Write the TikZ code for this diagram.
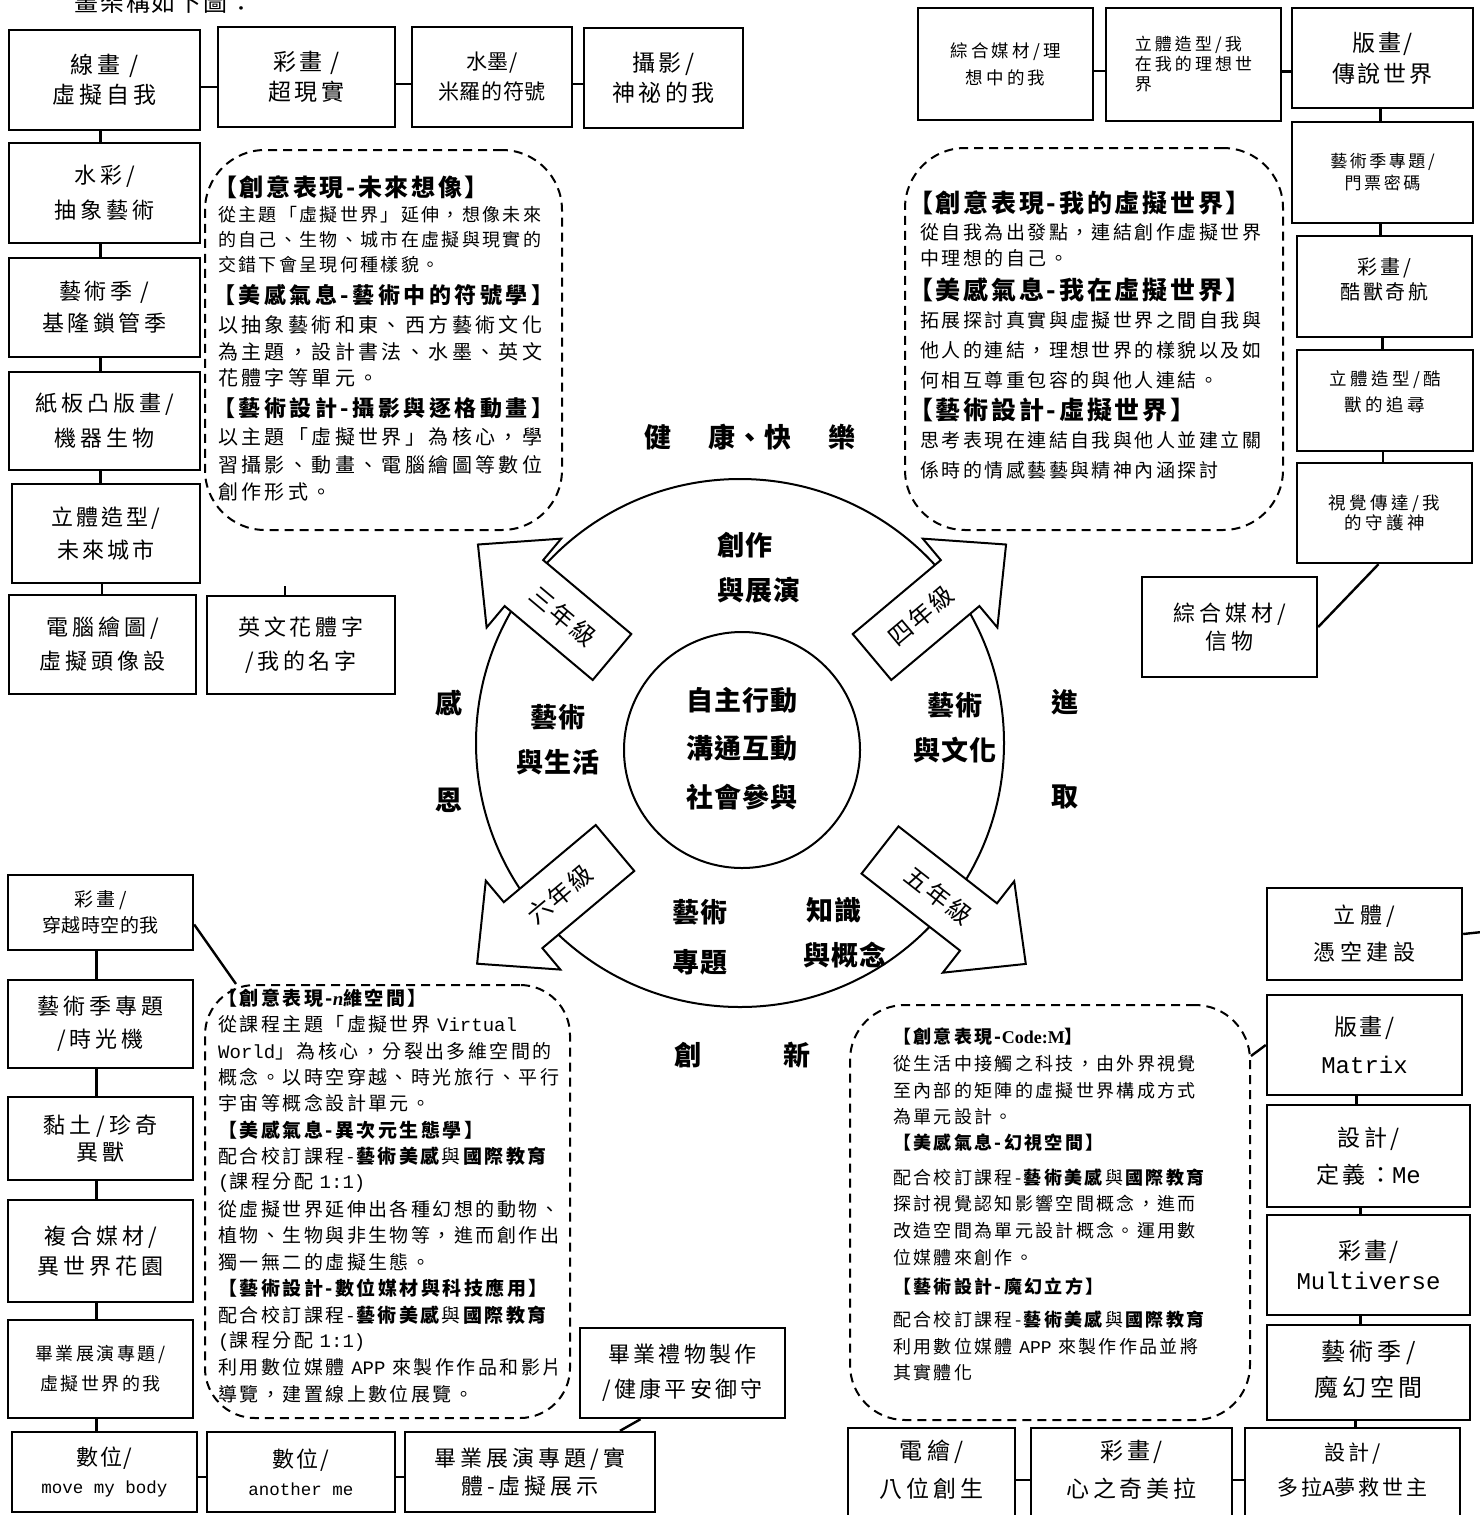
\documentclass[tikz,border=0pt]{standalone}
\usepackage{fontspec}
\setmainfont{Noto Sans CJK TC}
\newfontfamily\lat{Liberation Mono}
\newfontfamily\lser{Liberation Serif}
\usetikzlibrary{calc}
\newcommand\lb[3]{\fontsize{#1}{#3}\selectfont\addfontfeature{LetterSpace=#2}}
\newcommand\dn[1]{\rule[-#1]{0pt}{#1}}
\newcommand\bx[7][]{%
  \pgfmathsetmacro\bxcx{(#3+#5)/2}%
  \pgfmathsetmacro\bxcy{(#4+#6)/2}%
  \pgfmathsetmacro\bxw{#5-#3}%
  \pgfmathsetmacro\bxh{#6-#4}%
  \node[box,minimum width=\bxw pt,minimum height=\bxh pt,#1] (#2) at (\bxcx,\bxcy) {#7};}
\newcommand\tl[5]{\node[tline,font=#4] (#1) at (#2,#3) {#5};}
\newcommand\vc[3]{\path ([xshift=#3]#1.south) coordinate (#1v); \draw[conn] (#1v) -- (#1v |- #2.north);}
\newcommand\hc[3]{\path ([yshift=#3]#1.east) coordinate (#1h); \draw[conn] (#1h) -- (#1h -| #2.west);}
% name, Sx, Sy, angle, text, text rotation, shaft length, text position
\newcommand\barrow[8]{%
  \begin{scope}[shift={(#2,#3)},rotate=#4]
    \draw[arrowshape] (0,-30) -- (#7,-30) -- (#7,-58) -- ($(#7,0)+(60,0)$) -- (#7,58) -- (#7,30) -- (0,30) -- cycle;
    \node[font=\lb{24}{10}{24},rotate=#6,inner sep=0pt] (#1) at (#8,0) {#5};
  \end{scope}}
\begin{document}
\begin{tikzpicture}[x=1pt,y=-1pt,
  box/.style={draw,line width=2.4pt,align=center,inner sep=0pt},
  dbox/.style={draw,line width=2pt,dash pattern=on 9pt off 6pt,inner sep=0pt},
  tline/.style={anchor=west,inner sep=0pt},
  ctext/.style={font=\bfseries\lb{27}{4}{27},inner sep=0pt},
  conn/.style={line width=2.4pt},
  arrowshape/.style={draw,fill=white,line width=2pt,line join=miter}]
\useasboundingbox (0,0) rectangle (1480,1515);

% partial caption at the top
\node[anchor=base west,font=\lb{24}{8}{24},inner sep=0pt] (cap) at (74,12) {畫架構如下圖：};

% ---------- top-left group ----------
\bx[font=\lb{23}{18}{30}]{L1}{9}{30}{200}{130}{線畫 /\\虛擬自我}
\bx[font=\lb{23}{14}{30}]{T2}{218}{27}{395}{127}{彩畫 /\\超現實}
\bx[font=\lb{21}{3}{30}]{T3}{412}{27}{572}{127}{水墨/\\米羅的符號}
\bx[font=\lb{23}{15}{30}]{T4}{584}{28}{743}{128}{攝影/\\神祕的我}
\bx[font=\lb{22}{18}{35}]{L2}{9}{143}{200}{243}{水彩/\\抽象藝術}
\bx[font=\lb{22}{16}{32}]{L3}{9}{258}{200}{357}{藝術季 /\\基隆鎖管季}
\bx[font=\lb{22}{18}{35}]{L4}{9}{372}{200}{470}{紙板凸版畫/\\機器生物}
\bx[font=\lb{22}{14}{33}]{L5}{12}{484}{200}{583}{立體造型/\\未來城市}
\bx[font=\lb{22}{18}{34}]{L6}{9}{595}{196}{694}{電腦繪圖/\\虛擬頭像設}
\bx[font=\lb{22}{16}{34}]{L7}{207}{596}{395}{694}{英文花體字\\/我的名字}

\hc{L1}{T2}{-7pt}
\hc{T2}{T3}{-7pt}
\hc{T3}{T4}{-7pt}
\vc{L1}{L2}{-4pt}
\vc{L2}{L3}{-4pt}
\vc{L3}{L4}{-4pt}
\vc{L4}{L5}{-4pt}
\vc{L5}{L6}{-4pt}
\coordinate (L7s) at (285,586);
\draw[conn] (L7s) -- (L7s |- L7.north);

% ---------- top-right group ----------
\bx[font=\lb{17.5}{18}{27}]{R1}{918}{8}{1093}{120}{綜合媒材/理\\想中的我}
\bx[font=\lb{17}{18}{20},align=left]{R2}{1106}{8}{1281}{121}{立體造型/我\\在我的理想世\\界}
\bx[font=\lb{23}{13}{31}]{R3}{1292}{8}{1473}{108}{版畫/\\傳說世界}
\bx[font=\lb{17}{15}{22}]{R4}{1292}{122}{1473}{223}{藝術季專題/\\門票密碼}
\bx[font=\lb{20}{14}{25}]{R5}{1297}{236}{1472}{337}{彩畫/\\酷獸奇航\dn{16pt}}
\bx[font=\lb{17.5}{20}{26}]{R6}{1297}{350}{1473}{451}{立體造型/酷\\獸的追尋\dn{18pt}}
\bx[font=\lb{17.5}{20}{20}]{R7}{1297}{463}{1472}{563}{視覺傳達/我\\的守護神}
\bx[font=\lb{22}{18}{28}]{R8}{1142}{577}{1317}{677}{綜合媒材/\\信物}

\hc{R1}{R2}{-7pt}
\hc{R2}{R3}{-7pt}
\vc{R3}{R4}{-2pt}
\vc{R4}{R5}{-2pt}
\vc{R5}{R6}{-2pt}
\vc{R6}{R7}{-2pt}
\draw[conn] ([xshift=-6pt]R7.south) -- (R8.east);

% ---------- bottom-left group ----------
\bx[font=\lb{19}{3}{26}]{B1}{8}{875}{193}{950}{{\addfontfeature{LetterSpace=18}彩畫/}\\穿越時空的我}
\bx[font=\lb{22}{18}{33}]{B2}{8}{980}{193}{1068}{藝術季專題\\/時光機}
\bx[font=\lb{22}{20}{27}]{B3}{8}{1097}{193}{1180}{黏土/珍奇\\異獸}
\bx[font=\lb{22}{18}{30}]{B4}{8}{1200}{193}{1302}{複合媒材/\\異世界花園}
\bx[font=\lb{18}{14}{30}]{B5}{8}{1320}{193}{1418}{畢業展演專題/\\虛擬世界的我}
\bx[font=\lb{22}{8}{28}]{B6}{12}{1432}{197}{1512}{數位/\\{\lat\fontsize{17.5}{28}\selectfont move my body}}
\bx[font=\lb{22}{8}{28}]{B7}{207}{1432}{395}{1512}{數位/\\{\lat\fontsize{17.5}{28}\selectfont another me}}
\bx[font=\lb{22}{18}{28}]{B8}{405}{1432}{655}{1512}{畢業展演專題/實\\體-虛擬展示}
\bx[font=\lb{22}{15}{35}]{B9}{580}{1328}{785}{1418}{畢業禮物製作\\/健康平安御守}

\vc{B1}{B2}{-4pt}
\vc{B2}{B3}{-4pt}
\vc{B3}{B4}{-4pt}
\vc{B4}{B5}{-4pt}
\vc{B5}{B6}{-4pt}
\hc{B6}{B7}{-5pt}
\hc{B7}{B8}{-5pt}
\draw[conn] ([xshift=-42pt]B9.south) -- ([xshift=90pt]B8.north);

% ---------- bottom-right group ----------
\bx[font=\lb{22}{20}{37}]{C1}{1267}{888}{1462}{980}{立體/\\憑空建設}
\bx[font=\lb{23}{10}{38}]{C2}{1267}{995}{1462}{1095}{版畫/\\{\lat\fontsize{24}{38}\selectfont Matrix}}
\bx[font=\lb{23}{15}{37}]{C3}{1267}{1105}{1470}{1207}{設計/\\定義：{\lat\fontsize{24}{37}\selectfont Me}}
\bx[font=\lb{23}{10}{30}]{C4}{1267}{1215}{1470}{1315}{彩畫/\\{\lat\fontsize{24}{30}\selectfont Multiverse}}
\bx[font=\lb{24}{18}{36}]{C5}{1267}{1325}{1470}{1420}{藝術季/\\魔幻空間\dn{8pt}}
\bx[font=\lb{23}{18}{38}]{C6}{848}{1428}{1015}{1522}{電繪/\\八位創生\dn{12pt}}
\bx[font=\lb{23}{16}{38}]{C7}{1031}{1428}{1232}{1522}{彩畫/\\心之奇美拉\dn{12pt}}
\bx[font=\lb{21}{14}{35}]{C8}{1245}{1428}{1460}{1522}{設計/\\多拉{\lat A}夢救世主\dn{12pt}}

\coordinate (C1s) at (1482,932);
\draw[conn] (C1.east) -- (C1s);
\vc{C2}{C3}{-8pt}
\vc{C3}{C4}{-8pt}
\vc{C4}{C5}{-8pt}
\vc{C5}{C8}{-13pt}
\hc{C6}{C7}{-5pt}
\hc{C7}{C8}{-5pt}

% ---------- dashed boxes ----------
\node[dbox,rounded corners=60pt,minimum width=357pt,minimum height=380pt] (D1) at (383.5,340) {};
\node[dbox,rounded corners=60pt,minimum width=378pt,minimum height=382pt] (D2) at (1094,339) {};
\node[dbox,rounded corners=50pt,minimum width=365pt,minimum height=433pt] (D3) at (387.5,1201.5) {};
\node[dbox,rounded corners=55pt,minimum width=400pt,minimum height=415pt] (D4) at (1050,1212.5) {};

\draw[conn] ([yshift=-12pt]B1.east) -- ($(D3.north west)+(32,0)$);
\draw[conn] ($(D4.north east)+(0,52)$) -- (C2.west);

% D1 text
\tl{a1}{213}{187}{\bfseries\lb{24}{11}{24}}{【創意表現-未來想像】}
\tl{a2}{218}{215}{\lb{18}{13}{18}}{從主題「虛擬世界」延伸，想像未來}
\tl{a3}{218}{240}{\lb{18}{13}{18}}{的自己、生物、城市在虛擬與現實的}
\tl{a4}{218}{265}{\lb{18}{13}{18}}{交錯下會呈現何種樣貌。}
\tl{a5}{213}{295}{\bfseries\lb{22}{16}{22}}{【美感氣息-藝術中的符號學】}
\tl{a6}{218}{325}{\lb{20}{17}{20}}{以抽象藝術和東、西方藝術文化}
\tl{a7}{218}{352}{\lb{20}{17}{20}}{為主題，設計書法、水墨、英文}
\tl{a8}{218}{378}{\lb{20}{17}{20}}{花體字等單元。}
\tl{a9}{213}{408}{\bfseries\lb{22}{16}{22}}{【藝術設計-攝影與逐格動畫】}
\tl{a10}{218}{437}{\lb{20}{17}{20}}{以主題「虛擬世界」為核心，學}
\tl{a11}{218}{465}{\lb{20}{17}{20}}{習攝影、動畫、電腦繪圖等數位}
\tl{a12}{218}{492}{\lb{20}{17}{20}}{創作形式。}

% D2 text
\tl{b1}{908}{203}{\bfseries\lb{25}{11}{25}}{【創意表現-我的虛擬世界】}
\tl{b2}{920}{232}{\lb{19}{13}{19}}{從自我為出發點，連結創作虛擬世界}
\tl{b3}{920}{258}{\lb{19}{13}{19}}{中理想的自己。}
\tl{b4}{908}{290}{\bfseries\lb{25}{11}{25}}{【美感氣息-我在虛擬世界】}
\tl{b5}{920}{320}{\lb{19}{13}{19}}{拓展探討真實與虛擬世界之間自我與}
\tl{b6}{920}{350}{\lb{19}{13}{19}}{他人的連結，理想世界的樣貌以及如}
\tl{b7}{920}{380}{\lb{19}{13}{19}}{何相互尊重包容的與他人連結。}
\tl{b8}{908}{410}{\bfseries\lb{25}{11}{25}}{【藝術設計-虛擬世界】}
\tl{b9}{920}{440}{\lb{19}{13}{19}}{思考表現在連結自我與他人並建立關}
\tl{b10}{920}{470}{\lb{19}{13}{19}}{係時的情感藝藝與精神內涵探討}

% D3 text
\tl{c1}{218}{998}{\bfseries\lb{19}{13}{19}}{【創意表現-{\lser\bfseries\itshape n}維空間】}
\tl{c2}{218}{1024.4}{\lb{19}{13}{19}}{從課程主題「虛擬世界 {\lat Virtual}}
\tl{c3}{218}{1050.8}{\lb{19}{13}{19}}{{\lat World}」為核心，分裂出多維空間的}
\tl{c4}{218}{1077.2}{\lb{19}{13}{19}}{概念。以時空穿越、時光旅行、平行}
\tl{c5}{218}{1103.6}{\lb{19}{13}{19}}{宇宙等概念設計單元。}
\tl{c6}{218}{1130}{\bfseries\lb{19}{13}{19}}{【美感氣息-異次元生態學】}
\tl{c7}{218}{1156.4}{\lb{19}{13}{19}}{配合校訂課程-\textbf{藝術美感}與\textbf{國際教育}}
\tl{c8}{218}{1182.8}{\lb{19}{13}{19}}{{\lat(}課程分配 {\lat 1:1)}}
\tl{c9}{218}{1209.2}{\lb{19}{13}{19}}{從虛擬世界延伸出各種幻想的動物、}
\tl{c10}{218}{1235.6}{\lb{19}{13}{19}}{植物、生物與非生物等，進而創作出}
\tl{c11}{218}{1262}{\lb{19}{13}{19}}{獨一無二的虛擬生態。}
\tl{c12}{218}{1288.4}{\bfseries\lb{19}{13}{19}}{【藝術設計-數位媒材與科技應用】}
\tl{c13}{218}{1314.8}{\lb{19}{13}{19}}{配合校訂課程-\textbf{藝術美感}與\textbf{國際教育}}
\tl{c14}{218}{1341.2}{\lb{19}{13}{19}}{{\lat(}課程分配 {\lat 1:1)}}
\tl{c15}{218}{1367.6}{\lb{19}{13}{19}}{利用數位媒體 {\lat APP} 來製作作品和影片}
\tl{c16}{218}{1394}{\lb{19}{13}{19}}{導覽，建置線上數位展覽。}

% D4 text
\tl{d1}{893}{1037}{\bfseries\lb{18}{13}{18}}{【創意表現-{\lser\bfseries Code:M}】}
\tl{d2}{893}{1064}{\lb{18}{13}{18}}{從生活中接觸之科技，由外界視覺}
\tl{d3}{893}{1091}{\lb{18}{13}{18}}{至內部的矩陣的虛擬世界構成方式}
\tl{d4}{893}{1117}{\lb{18}{13}{18}}{為單元設計。}
\tl{d5}{893}{1143}{\bfseries\lb{18}{13}{18}}{【美感氣息-幻視空間】}
\tl{d6}{893}{1178}{\lb{18}{13}{18}}{配合校訂課程-\textbf{藝術美感}與\textbf{國際教育}}
\tl{d7}{893}{1204}{\lb{18}{13}{18}}{探討視覺認知影響空間概念，進而}
\tl{d8}{893}{1231}{\lb{18}{13}{18}}{改造空間為單元設計概念。運用數}
\tl{d9}{893}{1258}{\lb{18}{13}{18}}{位媒體來創作。}
\tl{d10}{893}{1287}{\bfseries\lb{18}{13}{18}}{【藝術設計-魔幻立方】}
\tl{d11}{893}{1320}{\lb{18}{13}{18}}{配合校訂課程-\textbf{藝術美感}與\textbf{國際教育}}
\tl{d12}{893}{1347}{\lb{18}{13}{18}}{利用數位媒體 {\lat APP} 來製作作品並將}
\tl{d13}{893}{1373}{\lb{18}{13}{18}}{其實體化}

% ---------- central cycle ----------
\node[draw,circle,line width=2pt,minimum size=528pt,inner sep=0pt] (ring) at (740,743) {};
\barrow{g3}{612}{657}{140}{三年級}{-40}{115}{64}
\barrow{g4}{872}{657}{40}{四年級}{40}{115}{64}
\barrow{g5}{880}{850}{-38}{五年級}{-38}{125}{74}
\barrow{g6}{615}{848}{-140}{六年級}{40}{120}{72}
\node[draw,circle,line width=2pt,minimum size=236pt,inner sep=0pt] (core) at (742,750) {};

\node[ctext] (m1) at (742,700) {自主行動};
\node[ctext] (m2) at (742,748) {溝通互動};
\node[ctext] (m3) at (742,797) {社會參與};
\node[ctext,anchor=west] (q1) at (717,545) {創作};
\node[ctext,anchor=west] (q2) at (717,590) {與展演};
\node[ctext] (q3) at (558,717) {藝術};
\node[ctext] (q4) at (558,762) {與生活};
\node[ctext] (q5) at (955,705) {藝術};
\node[ctext] (q6) at (955,750) {與文化};
\node[ctext] (q7) at (700,912) {藝術};
\node[ctext] (q8) at (700,962) {專題};
\node[ctext,anchor=west] (q9) at (806,910) {知識};
\node[ctext,anchor=west] (q10) at (803,955) {與概念};
\node[ctext] (hk) at (750,437) {健\hspace{37pt}康、快\hspace{37pt}樂};
\node[ctext] (w1) at (449,703) {感};
\node[ctext] (w2) at (449,800) {恩};
\node[ctext] (w3) at (1065,702) {進};
\node[ctext] (w4) at (1065,797) {取};
\node[ctext] (w5) at (688,1055) {創};
\node[ctext] (w6) at (797,1055) {新};
\end{tikzpicture}
\end{document}
